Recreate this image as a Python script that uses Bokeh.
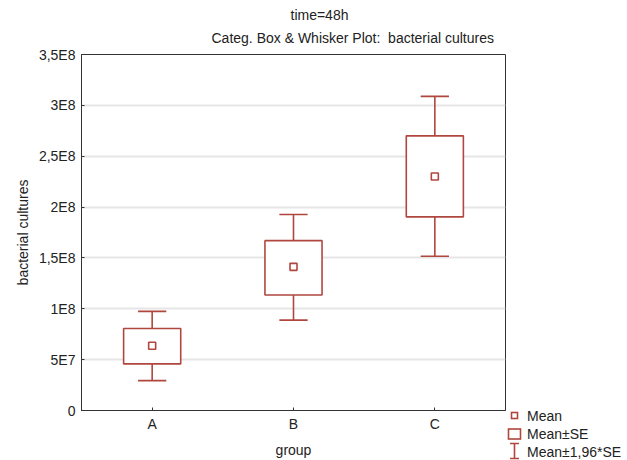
from bokeh.plotting import figure
from bokeh.layouts import row
from bokeh.models import ColumnDataSource, FixedTicker, Title, Div
from bokeh.transform import dodge
from bokeh.embed import file_html
from bokeh.resources import INLINE

# ---- data ----
groups = ["A", "B", "C"]
means = [0.637e8, 1.4125e8, 2.30e8]
se_low = [0.458e8, 1.136e8, 1.904e8]
se_high = [0.806e8, 1.670e8, 2.700e8]
ci_low = [0.2935e8, 0.889e8, 1.517e8]
ci_high = [0.975e8, 1.927e8, 3.088e8]

y_ticks = [0, 5e7, 1e8, 1.5e8, 2e8, 2.5e8, 3e8, 3.5e8]
y_tick_labels = ["0", "5E7", "1E8", "1,5E8", "2E8", "2,5E8", "3E8", "3,5E8"]

legend_labels = ["Mean", "Mean±SE", "Mean±1,96*SE"]

# ---- styles ----
RED = "#B0473F"
FONT = "Liberation Sans"
TXT = "#222222"
FS = "14px"
LW = 1.6

src = ColumnDataSource(dict(g=groups, mean=means, lo=se_low, hi=se_high,
                            clo=ci_low, chi=ci_high))

p = figure(width=507, height=460, x_range=groups, y_range=(0, 3.5e8),
           output_backend="svg", toolbar_location=None,
           min_border_left=81, min_border_right=2,
           min_border_top=54, min_border_bottom=49)
p.x_range.range_padding = 0
p.background_fill_color = "white"
p.border_fill_color = "white"
p.outline_line_color = "#333333"
p.outline_line_width = 1

# whisker stems (the SE box is drawn over them)
p.segment(x0="g", y0="clo", x1="g", y1="chi", source=src, line_color=RED, line_width=LW)
cap = 0.1
p.segment(x0=dodge("g", -cap, range=p.x_range), y0="chi", x1=dodge("g", cap, range=p.x_range),
          y1="chi", source=src, line_color=RED, line_width=LW)
p.segment(x0=dodge("g", -cap, range=p.x_range), y0="clo", x1=dodge("g", cap, range=p.x_range),
          y1="clo", source=src, line_color=RED, line_width=LW)
p.vbar(x="g", bottom="lo", top="hi", width=0.404, source=src,
       fill_color="white", line_color=RED, line_width=LW)
p.scatter(x="g", y="mean", source=src, marker="square", size=7,
          fill_color="white", line_color=RED, line_width=LW)

# axes
p.yaxis.ticker = FixedTicker(ticks=y_ticks)
p.yaxis.major_label_overrides = {t: l for t, l in zip(y_ticks, y_tick_labels)}
for ax in (p.xaxis[0], p.yaxis[0]):
    ax.axis_line_color = "#333333"
    ax.major_tick_in = 3
    ax.major_tick_out = 0
    ax.minor_tick_line_color = None
    ax.major_tick_line_color = "#333333"
    ax.major_label_text_font = FONT
    ax.major_label_text_font_size = FS
    ax.major_label_text_color = TXT
    ax.axis_label_text_font = FONT
    ax.axis_label_text_font_size = FS
    ax.axis_label_text_font_style = "normal"
    ax.axis_label_text_color = TXT
p.yaxis.major_label_standoff = 6
p.xaxis.major_label_standoff = 5
p.xaxis.axis_label = "group"
p.xaxis.axis_label_standoff = 7
p.yaxis.axis_label = "bacterial cultures"
p.yaxis.axis_label_standoff = 5

p.xgrid.grid_line_color = None
p.ygrid.ticker = FixedTicker(ticks=y_ticks)
p.ygrid.grid_line_color = "#e6e6e6"
p.ygrid.grid_line_width = 2

# titles (first added sits closest to the frame)
t2 = Title(text="Categ. Box & Whisker Plot:\u00a0 bacterial cultures", align="left",
           offset=130, standoff=17, text_font=FONT, text_font_size=FS,
           text_font_style="normal", text_color=TXT)
t1 = Title(text="time=48h", align="left", offset=209, standoff=0,
           text_font=FONT, text_font_size=FS, text_font_style="normal", text_color=TXT)
try:
    t1.standoff = -6
except Exception:
    pass
p.add_layout(t2, "above")
p.add_layout(t1, "above")

# ---- legend panel to the right of the plot, below the frame ----
LEG_LEFT = 507                      # canvas x where the legend panel starts
item_y = [415.5, 434, 451.5]        # row centres (canvas px)
sym_x = 514.5 - LEG_LEFT
text_x = 527 - LEG_LEFT
parts = [f'<svg xmlns="http://www.w3.org/2000/svg" width="120" height="460" '
         f'style="display:block">']
# Mean symbol
parts.append(f'<rect x="{sym_x-3}" y="{item_y[0]-3}" width="6" height="6" fill="white" '
             f'stroke="{RED}" stroke-width="{LW}"/>')
# Mean±SE symbol
parts.append(f'<rect x="{sym_x-6}" y="{item_y[1]-5}" width="12" height="10" fill="white" '
             f'stroke="{RED}" stroke-width="{LW}"/>')
# Mean±1,96*SE symbol (I-beam)
yb = item_y[2]
parts.append(f'<path d="M{sym_x},{yb-8} L{sym_x},{yb+7} M{sym_x-4.5},{yb-8} L{sym_x+4.5},{yb-8} '
             f'M{sym_x-4.5},{yb+7} L{sym_x+4.5},{yb+7}" fill="none" stroke="{RED}" '
             f'stroke-width="{LW}"/>')
for lab, yy in zip(legend_labels, item_y):
    parts.append(f'<text x="{text_x}" y="{yy}" dominant-baseline="central" '
                 f'font-family="{FONT}" font-size="{FS}" fill="{TXT}">{lab}</text>')
parts.append('</svg>')
legend_div = Div(text="".join(parts), width=120, height=460,
                 styles={"margin": "0", "padding": "0", "background": "white"})

layout = row(p, legend_div, spacing=0)
open("out.html", "w").write(file_html(layout, INLINE))
